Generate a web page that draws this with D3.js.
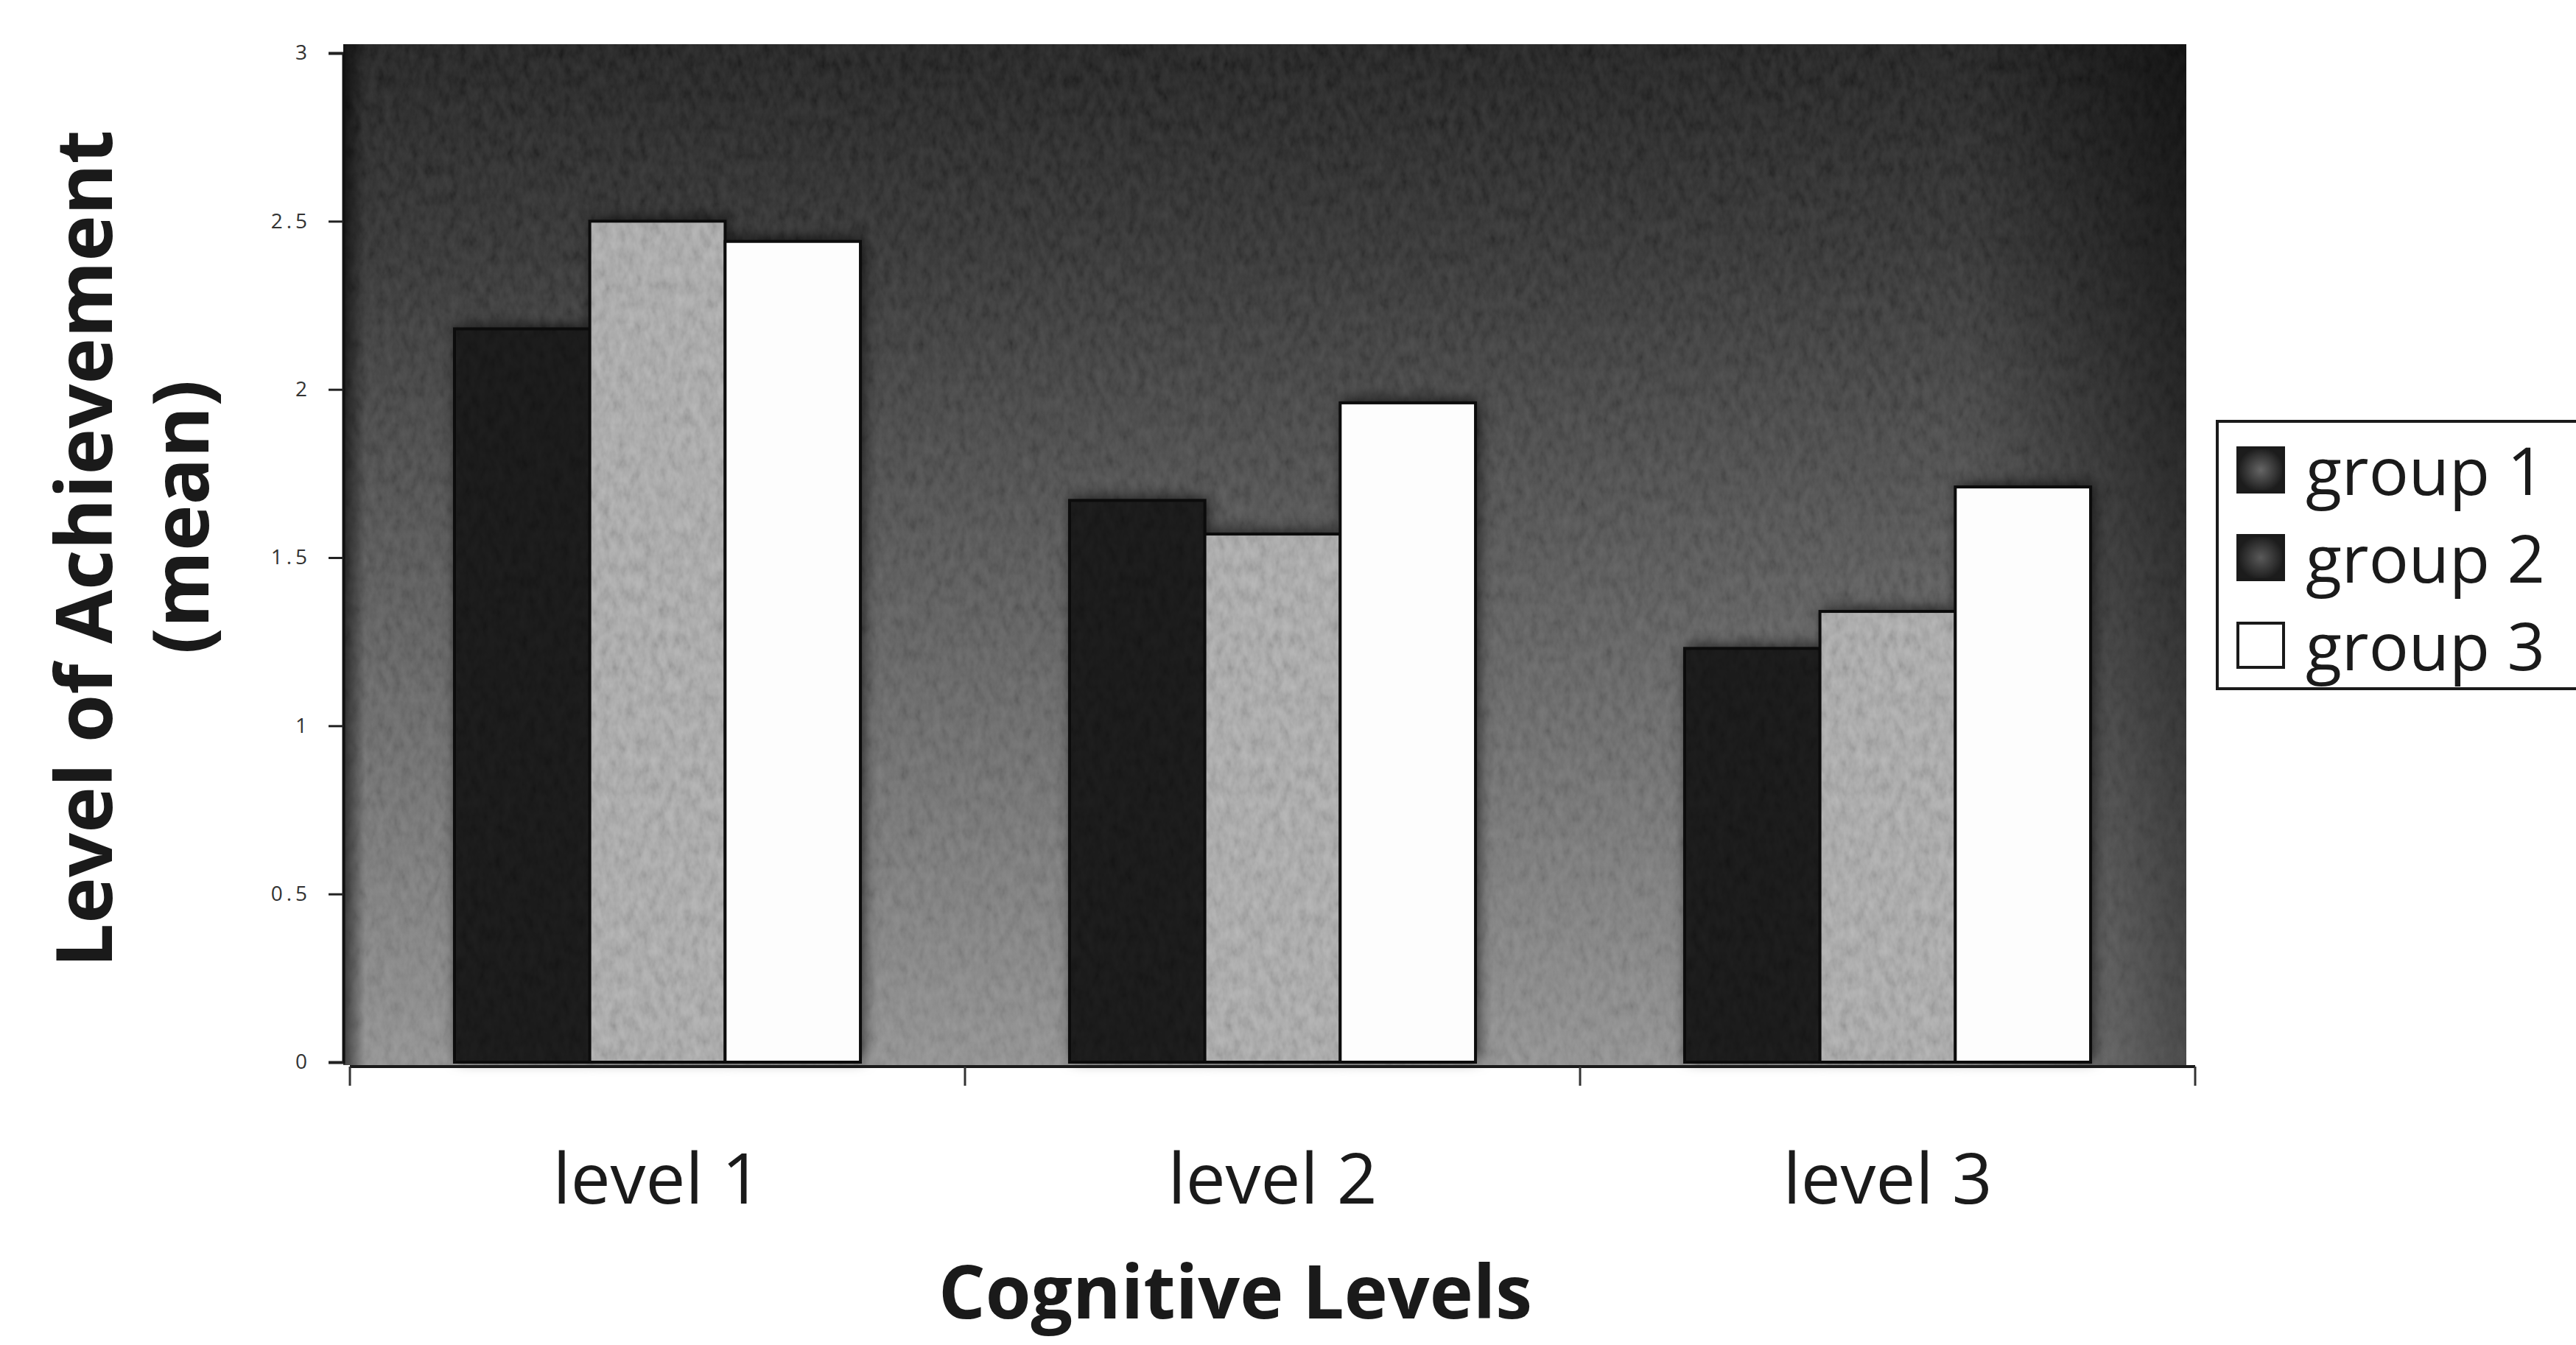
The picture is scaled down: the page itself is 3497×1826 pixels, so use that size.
<!DOCTYPE html>
<html>
<head>
<meta charset="utf-8">
<script src="https://cdn.jsdelivr.net/npm/d3@7"></script>
<style>
  html, body { margin: 0; padding: 0; background: #ffffff; }
  svg { display: block; }
</style>
</head>
<body>
<script>
// Mean level of achievement by cognitive level, one bar per group
const categories = ["level 1", "level 2", "level 3"];
const seriesNames = ["group 1", "group 2", "group 3"];
const group1 = [2.18, 1.67, 1.23];
const group2 = [2.5, 1.57, 1.34];
const group3 = [2.44, 1.96, 1.71];
const yTicks = [0, 0.5, 1, 1.5, 2, 2.5, 3];

const W = 3497, H = 1826;
const plot = { left: 466, right: 2968, top: 60, bottom: 1446 };

const svg = d3.select("body").append("svg")
  .attr("width", W).attr("height", H)
  .attr("viewBox", `0 0 ${W} ${H}`);

svg.append("rect").attr("width", W).attr("height", H).attr("fill", "#ffffff");

const defs = svg.append("defs");

// dark-to-grey backdrop of the plot area
const bg = defs.append("linearGradient").attr("id", "plotBg")
  .attr("x1", 0).attr("y1", 0).attr("x2", 0).attr("y2", 1);
[["0%", "#0f0f0f"], ["20%", "#242424"], ["50%", "#4c4c4c"], ["80%", "#747474"], ["100%", "#8e8e8e"]]
  .forEach(([o, c]) => bg.append("stop").attr("offset", o).attr("stop-color", c));

// darker rims at the left and right sides
const edge = defs.append("linearGradient").attr("id", "edgeShade")
  .attr("x1", 0).attr("y1", 0).attr("x2", 1).attr("y2", 0);
[["0%", 0.6], ["1.2%", 0.0], ["88%", 0.0], ["100%", 0.5]]
  .forEach(([o, a]) => edge.append("stop").attr("offset", o)
    .attr("stop-color", "#000").attr("stop-opacity", a));

// printed-screen grain
const grain = defs.append("filter").attr("id", "grain")
  .attr("x", 0).attr("y", 0).attr("width", 1).attr("height", 1);
grain.append("feTurbulence").attr("type", "fractalNoise")
  .attr("baseFrequency", "0.09 0.05").attr("numOctaves", 3).attr("seed", 7).attr("result", "noise");
grain.append("feColorMatrix").attr("in", "noise").attr("type", "matrix")
  .attr("values", "1 0 0 0 0  1 0 0 0 0  1 0 0 0 0  0 0 0 0 1").attr("result", "grey");
grain.append("feComposite").attr("in", "grey").attr("in2", "SourceGraphic").attr("operator", "in");

// soft dark halo behind each bar
const halo = defs.append("filter").attr("id", "halo")
  .attr("x", "-20%").attr("y", "-10%").attr("width", "140%").attr("height", "120%");
halo.append("feDropShadow").attr("dx", 4).attr("dy", -4).attr("stdDeviation", 10)
  .attr("flood-color", "#000").attr("flood-opacity", 0.7);

// legend swatch shading
["sw1", "sw2"].forEach((id, i) => {
  const g = defs.append("radialGradient").attr("id", id);
  g.append("stop").attr("offset", "0%").attr("stop-color", i ? "#5a5a5a" : "#666");
  g.append("stop").attr("offset", "100%").attr("stop-color", "#1c1c1c");
});

// plot backdrop
svg.append("rect")
  .attr("x", plot.left).attr("y", plot.top)
  .attr("width", plot.right - plot.left).attr("height", plot.bottom - plot.top)
  .attr("fill", "url(#plotBg)");
svg.append("rect")
  .attr("x", plot.left).attr("y", plot.top)
  .attr("width", plot.right - plot.left).attr("height", plot.bottom - plot.top)
  .attr("fill", "#fff").attr("filter", "url(#grain)").attr("opacity", 0.16);
svg.append("rect")
  .attr("x", plot.left).attr("y", plot.top)
  .attr("width", plot.right - plot.left).attr("height", plot.bottom - plot.top)
  .attr("fill", "url(#edgeShade)");

// scales
const x0 = d3.scaleBand().domain(categories).range([475, 2980])
  .paddingInner(0.34).paddingOuter(0.17);
const x1 = d3.scaleBand().domain(seriesNames).range([0, x0.bandwidth()]).padding(0);
const y = d3.scaleLinear().domain([0, 3]).range([1442, 72]);

const seriesValues = [group1, group2, group3];
const barFill = ["#111111", "#a8a8a8", "#fdfdfd"];

const rows = categories.map((c, i) => ({
  category: c,
  bars: seriesNames.map((s, j) => ({ series: s, j, value: seriesValues[j][i] }))
}));

const groups = svg.append("g").selectAll("g").data(rows).join("g")
  .attr("transform", d => `translate(${x0(d.category)},0)`);

groups.selectAll("rect.halo").data(d => d.bars).join("rect")
  .attr("class", "halo")
  .attr("x", d => x1(d.series)).attr("y", d => y(d.value))
  .attr("width", x1.bandwidth()).attr("height", d => y(0) - y(d.value))
  .attr("fill", "#000").attr("filter", "url(#halo)");

groups.selectAll("rect.bar").data(d => d.bars).join("rect")
  .attr("class", "bar")
  .attr("x", d => x1(d.series)).attr("y", d => y(d.value))
  .attr("width", x1.bandwidth()).attr("height", d => y(0) - y(d.value))
  .attr("fill", d => barFill[d.j])
  .attr("stroke", "#0c0c0c").attr("stroke-width", 4);

// grain on the two shaded bar series
groups.selectAll("rect.tex").data(d => d.bars.filter(b => b.j < 2)).join("rect")
  .attr("class", "tex")
  .attr("x", d => x1(d.series) + 2).attr("y", d => y(d.value) + 2)
  .attr("width", x1.bandwidth() - 4).attr("height", d => y(0) - y(d.value) - 4)
  .attr("fill", "#fff").attr("filter", "url(#grain)")
  .attr("opacity", d => d.j === 0 ? 0.06 : 0.22);

// y axis
const yAxis = svg.append("g").attr("transform", `translate(${plot.left},0)`)
  .call(d3.axisLeft(y).tickValues(yTicks).tickSize(20).tickPadding(24)
    .tickFormat(d3.format("~g")));
yAxis.select(".domain").attr("stroke", "#111").attr("stroke-width", 4);
yAxis.selectAll(".tick line").attr("stroke", "#222").attr("stroke-width", 3);
yAxis.selectAll(".tick text")
  .attr("font-family", "'Open Sans', sans-serif").attr("font-size", 28)
  .attr("letter-spacing", 5).attr("fill", "#333");

// x axis
const xAxis = svg.append("g").attr("transform", `translate(0,${plot.bottom + 2})`)
  .call(d3.axisBottom(x0).tickSize(0).tickPadding(118));
xAxis.select(".domain").remove();
xAxis.selectAll(".tick text")
  .attr("font-family", "'Open Sans', sans-serif").attr("font-size", 96)
  .attr("fill", "#1a1a1a");
const edges = [x0.range()[0]].concat(categories.map(c => x0(c) - x0.step() * x0.paddingInner() / 2).slice(1), [x0.range()[1]]);
svg.append("line")
  .attr("x1", x0.range()[0]).attr("x2", x0.range()[1])
  .attr("y1", plot.bottom + 2).attr("y2", plot.bottom + 2)
  .attr("stroke", "#1a1a1a").attr("stroke-width", 4);
svg.append("g").selectAll("line").data(edges).join("line")
  .attr("x1", d => d).attr("x2", d => d)
  .attr("y1", plot.bottom + 2).attr("y2", plot.bottom + 28)
  .attr("stroke", "#333").attr("stroke-width", 3);

// axis titles
svg.append("text")
  .attr("transform", "translate(152,745) rotate(-90)")
  .attr("text-anchor", "middle")
  .attr("font-family", "'Open Sans', sans-serif").attr("font-weight", 700)
  .attr("font-size", 106).attr("fill", "#1a1a1a")
  .text("Level of Achievement");
svg.append("text")
  .attr("transform", "translate(283,702) rotate(-90)")
  .attr("text-anchor", "middle")
  .attr("font-family", "'Open Sans', sans-serif").attr("font-weight", 700)
  .attr("font-size", 106).attr("fill", "#1a1a1a")
  .text("(mean)");
svg.append("text")
  .attr("x", 1677).attr("y", 1790)
  .attr("text-anchor", "middle")
  .attr("font-family", "'Open Sans', sans-serif").attr("font-weight", 700)
  .attr("font-size", 100).attr("fill", "#1a1a1a")
  .text("Cognitive Levels");

// legend
const legend = svg.append("g");
legend.append("rect")
  .attr("x", 3010).attr("y", 572).attr("width", 560).attr("height", 363)
  .attr("fill", "#fff").attr("stroke", "#1a1a1a").attr("stroke-width", 4);
const swatchFill = ["url(#sw1)", "url(#sw2)", "#ffffff"];
const items = legend.selectAll("g.item").data(seriesNames).join("g")
  .attr("class", "item")
  .attr("transform", (d, i) => `translate(0,${i * 119})`);
items.append("rect")
  .attr("x", 3038).attr("y", 608).attr("width", 62).attr("height", 60)
  .attr("fill", (d, i) => swatchFill[i])
  .attr("stroke", "#1a1a1a").attr("stroke-width", 4);
items.append("text")
  .attr("x", 3130).attr("y", 672)
  .attr("font-family", "'Open Sans', sans-serif").attr("font-size", 90)
  .attr("fill", "#1a1a1a")
  .text(d => d);
</script>
</body>
</html>
